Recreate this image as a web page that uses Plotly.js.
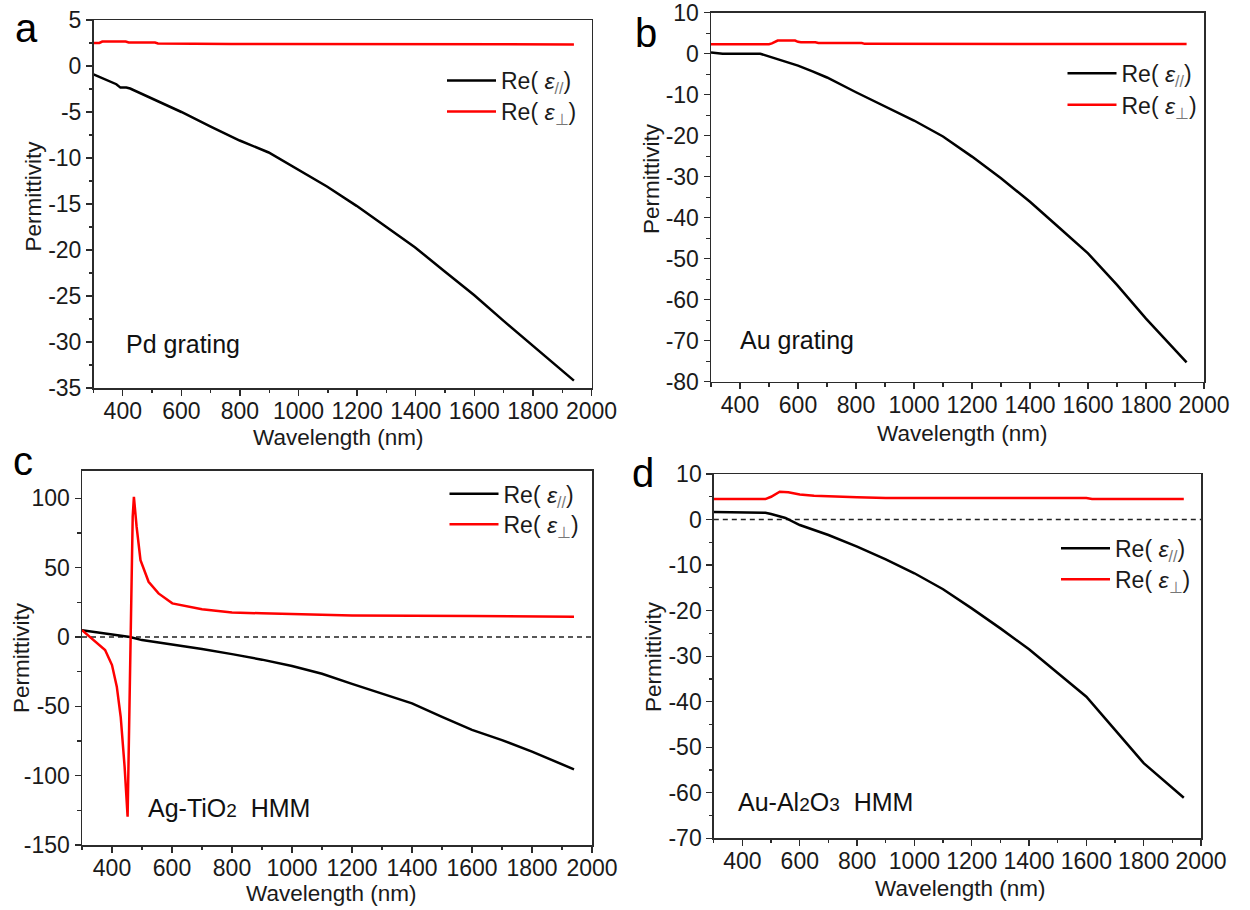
<!DOCTYPE html>
<html>
<head>
<meta charset="utf-8">
<script src="https://cdn.plot.ly/plotly-3.0.1.min.js"></script>
<style>
  html, body { margin: 0; padding: 0; background: #fff; }
  #chart { width: 1250px; height: 910px; }
</style>
</head>
<body>
<div id="chart"></div>
<script>
// ---------------- DATA ----------------
// Panel a: Pd grating
const wlA_par  = [300, 345, 378, 392, 412, 425, 502, 600, 700, 799, 898, 999, 1097, 1198, 1298, 1397, 1498, 1599, 1700, 1802, 1940];
const epsA_par = [-0.9, -1.55, -1.98, -2.35, -2.35, -2.45, -3.6, -5.0, -6.6, -8.1, -9.4, -11.3, -13.1, -15.2, -17.5, -19.7, -22.3, -24.9, -27.7, -30.5, -34.2];
const wlA_perp  = [300, 320, 330, 410, 420, 510, 520, 760, 770, 1940];
const epsA_perp = [2.5, 2.5, 2.65, 2.65, 2.55, 2.55, 2.45, 2.45, 2.38, 2.35];

// Panel b: Au grating
const wlB_par  = [300, 320, 340, 470, 500, 550, 600, 650, 700, 800, 900, 1000, 1100, 1200, 1300, 1400, 1500, 1600, 1700, 1800, 1940];
const epsB_par = [0.3, 0.2, 0, 0, -0.7, -1.8, -2.9, -4.3, -5.8, -9.4, -12.9, -16.3, -20.2, -25.1, -30.4, -36.1, -42.4, -48.7, -56.4, -64.6, -75.3];
const wlB_perp  = [300, 500, 510, 530, 590, 600, 610, 660, 670, 820, 830, 1940];
const epsB_perp = [2.3, 2.3, 2.5, 3.2, 3.2, 2.9, 2.8, 2.8, 2.6, 2.6, 2.4, 2.35];

// Panel c: Ag-TiO2 HMM
const wlC_par  = [300, 400, 460, 500, 600, 700, 800, 900, 1000, 1100, 1200, 1300, 1400, 1500, 1600, 1700, 1800, 1940];
const epsC_par = [5, 2.2, 0, -2.2, -5.3, -8.6, -12.3, -16.3, -20.9, -26.5, -33.8, -40.7, -47.8, -57.5, -67, -74.3, -82.7, -95.4];
const wlC_perp  = [300, 344, 377, 400, 416, 429, 442, 452, 462, 469, 473, 482, 495, 522, 555, 601, 700, 800, 898, 1001, 1200, 1601, 1940];
const epsC_perp = [5, -3.4, -9.4, -20.2, -35.8, -57.5, -93.5, -129.6, 0.2, 86.8, 101.2, 79.6, 55.5, 39.9, 31.5, 24.3, 20, 17.8, 17.1, 16.6, 15.6, 15.1, 14.7];

// Panel d: Au-Al2O3 HMM
const wlD_par  = [300, 480, 500, 550, 600, 700, 800, 900, 1000, 1100, 1200, 1300, 1400, 1500, 1600, 1700, 1800, 1940];
const epsD_par = [1.65, 1.5, 1.2, 0.34, -1.2, -3.4, -5.96, -8.74, -11.8, -15.3, -19.5, -23.9, -28.5, -33.8, -38.9, -46.2, -53.5, -61.1];
const wlD_perp  = [300, 480, 500, 530, 560, 600, 650, 700, 750, 800, 900, 1600, 1620, 1940];
const epsD_perp = [4.5, 4.5, 5.0, 6.1, 6.0, 5.5, 5.24, 5.1, 5.05, 4.9, 4.75, 4.73, 4.5, 4.5];

// Tick labels
const xTickVals = [400, 600, 800, 1000, 1200, 1400, 1600, 1800, 2000];
const xTickText = ['400', '600', '800', '1000', '1200', '1400', '1600', '1800', '2000'];
const yTickValsA = [5, 0, -5, -10, -15, -20, -25, -30, -35];
const yTickTextA = ['5', '0', '-5', '-10', '-15', '-20', '-25', '-30', '-35'];
const yTickValsB = [10, 0, -10, -20, -30, -40, -50, -60, -70, -80];
const yTickTextB = ['10', '0', '-10', '-20', '-30', '-40', '-50', '-60', '-70', '-80'];
const yTickValsC = [100, 50, 0, -50, -100, -150];
const yTickTextC = ['100', '50', '0', '-50', '-100', '-150'];
const yTickValsD = [10, 0, -10, -20, -30, -40, -50, -60, -70];
const yTickTextD = ['10', '0', '-10', '-20', '-30', '-40', '-50', '-60', '-70'];

const seriesNames = ['Re(\u00A0<i style="font-size:23px">ε</i><sub><span style="color:#777;font-size:16px">//</span></sub>)',
                     'Re(\u00A0<i style="font-size:23px">ε</i><sub><span style="color:#777;font-size:16px">⊥</span></sub>)'];
const panelLetters = ['a', 'b', 'c', 'd'];
const panelLabels = ['Pd grating', 'Au grating',
  'Ag-TiO<span style="font-size:19px">2</span>\u00A0\u00A0HMM',
  'Au-Al<span style="font-size:19px">2</span>O<span style="font-size:19px">3</span>\u00A0\u00A0HMM'];
const xTitle = 'Wavelength (nm)';
const yTitle = 'Permittivity';

// ---------------- STYLE ----------------
const FONT = 'Liberation Sans, Arial, Helvetica, sans-serif';
const W = 1250, H = 910;
const BLACK = '#000000', RED = '#ff0000';
const LW = 2.5;

function px(x) { return x / W; }
function py(y) { return 1 - y / H; }

// legend line positions per panel: [lineStartX, row1Y, row2Y]
const legendRows = [[447, 79, 110], [1067.5, 71.7, 103.3], [449.5, 492.3, 522.7], [1061, 546.7, 577.7]];
const LEG_DY = 20; // distance from legend top to line centre

const traces = [];
const legends = {};
const legendCommon = {
  bgcolor: 'rgba(0,0,0,0)', borderwidth: 0, itemwidth: 49,
  font: {family: FONT, size: 23, color: '#1a1a1a'},
  xanchor: 'left', yanchor: 'top', itemclick: false, itemdoubleclick: false
};
function legendId(n) { return n === 1 ? 'legend' : 'legend' + n; }
function addPanel(i, xs1, ys1, xs2, ys2) {
  const sfx = i === 0 ? '' : String(i + 1);
  const l1 = legendId(2 * i + 1), l2 = legendId(2 * i + 2);
  const r = legendRows[i];
  legends[l1] = Object.assign({}, legendCommon, {x: px(r[0] - 5), y: py(r[1] - LEG_DY)});
  legends[l2] = Object.assign({}, legendCommon, {x: px(r[0] - 5), y: py(r[2] - LEG_DY)});
  traces.push({x: xs1, y: ys1, type: 'scatter', mode: 'lines', name: seriesNames[0],
    xaxis: 'x' + sfx, yaxis: 'y' + sfx, legend: l1,
    line: {color: BLACK, width: LW}, hoverinfo: 'skip'});
  traces.push({x: xs2, y: ys2, type: 'scatter', mode: 'lines', name: seriesNames[1],
    xaxis: 'x' + sfx, yaxis: 'y' + sfx, legend: l2,
    line: {color: RED, width: LW}, hoverinfo: 'skip'});
}
addPanel(0, wlA_par, epsA_par, wlA_perp, epsA_perp);
addPanel(1, wlB_par, epsB_par, wlB_perp, epsB_perp);
addPanel(2, wlC_par, epsC_par, wlC_perp, epsC_perp);
addPanel(3, wlD_par, epsD_par, wlD_perp, epsD_perp);

const axisCommon = {
  showline: true, linecolor: '#2b2b2b', linewidth: 1.5, mirror: true,
  ticks: 'outside', ticklen: 6, tickwidth: 1.3, tickcolor: '#2b2b2b',
  showgrid: false, zeroline: false, fixedrange: true,
  tickfont: {family: FONT, size: 23, color: '#1a1a1a'},
  tickmode: 'array', ticklabeloverflow: 'allow'
};
function xAxis(domain, anchor) {
  return Object.assign({}, axisCommon, {domain: domain, anchor: anchor, range: [300, 2000],
    tickvals: xTickVals, ticktext: xTickText, ticklabelstandoff: -4,
    minor: {tickmode: 'linear', tick0: 0, dtick: 100, ticks: 'outside', ticklen: 3.5, tickwidth: 1.3, tickcolor: '#2b2b2b', showgrid: false}});
}
function yAxis(domain, anchor, range, vals, text, minorStep) {
  return Object.assign({}, axisCommon, {domain: domain, anchor: anchor, range: range,
    tickvals: vals, ticktext: text,
    minor: {tickmode: 'linear', tick0: 0, dtick: minorStep, ticks: 'outside', ticklen: 3.5, tickwidth: 1.3, tickcolor: '#2b2b2b', showgrid: false}});
}

// plot-area boxes in pixels: [left, right, top, bottom]
const boxes = [
  [93.5, 591.5, 20, 388],
  [711, 1204, 12.7, 381.7],
  [82, 592, 470.7, 845],
  [713.8, 1201, 474, 838.3]
];
function xd(b) { return [px(b[0]), px(b[1])]; }
function yd(b) { return [py(b[3]), py(b[2])]; }

const annotations = [];
const letterPos = [[12.5, 28], [633, 33], [10.5, 461], [630, 472.8]];
const labelPos = [[124, 344.4], [738, 339.7], [145.5, 808.4], [736.5, 802.4]];
const xTitlePos = [[337.6, 437], [962, 433], [331, 893], [960, 888]];
const yTitlePos = [[33, 196.5], [652, 178], [21, 658], [653, 657]];
for (let i = 0; i < 4; i++) {
  annotations.push({xref: 'paper', yref: 'paper', x: px(letterPos[i][0]), y: py(letterPos[i][1]),
    xanchor: 'left', yanchor: 'middle', showarrow: false, text: panelLetters[i],
    font: {family: FONT, size: 40, color: '#000'}});
  annotations.push({xref: 'paper', yref: 'paper', x: px(labelPos[i][0]), y: py(labelPos[i][1]),
    xanchor: 'left', yanchor: 'middle', showarrow: false, text: panelLabels[i],
    font: {family: FONT, size: 25, color: '#111'}});
  annotations.push({xref: 'paper', yref: 'paper', x: px(xTitlePos[i][0]), y: py(xTitlePos[i][1]),
    xanchor: 'center', yanchor: 'middle', showarrow: false, text: xTitle,
    font: {family: FONT, size: 22.5, color: '#1a1a1a'}});
  annotations.push({xref: 'paper', yref: 'paper', x: px(yTitlePos[i][0]), y: py(yTitlePos[i][1]),
    xanchor: 'center', yanchor: 'middle', showarrow: false, text: yTitle, textangle: -90,
    font: {family: FONT, size: 22.5, color: '#1a1a1a'}});
}

const layout = Object.assign({
  width: W, height: H,
  margin: {l: 0, r: 0, t: 0, b: 0, pad: 0},
  paper_bgcolor: '#fff', plot_bgcolor: '#fff',
  font: {family: FONT, color: '#1a1a1a'},
  showlegend: true,
  xaxis:  xAxis(xd(boxes[0]), 'y'),
  yaxis:  yAxis(yd(boxes[0]), 'x', [-35, 5], yTickValsA, yTickTextA, 2.5),
  xaxis2: xAxis(xd(boxes[1]), 'y2'),
  yaxis2: yAxis(yd(boxes[1]), 'x2', [-80, 10], yTickValsB, yTickTextB, 5),
  xaxis3: xAxis(xd(boxes[2]), 'y3'),
  yaxis3: yAxis(yd(boxes[2]), 'x3', [-150, 120], yTickValsC, yTickTextC, 25),
  xaxis4: xAxis(xd(boxes[3]), 'y4'),
  yaxis4: yAxis(yd(boxes[3]), 'x4', [-70, 10], yTickValsD, yTickTextD, 5),
  shapes: [
    {type: 'line', xref: 'x3 domain', yref: 'y3', x0: 0, x1: 1, y0: 0, y1: 0, layer: 'below',
     line: {color: '#222', width: 1.5, dash: '5px,4px'}},
    {type: 'line', xref: 'x4 domain', yref: 'y4', x0: 0, x1: 1, y0: 0, y1: 0, layer: 'below',
     line: {color: '#222', width: 1.5, dash: '5px,4px'}}
  ],
  annotations: annotations
}, legends);

Plotly.newPlot('chart', traces, layout, {displayModeBar: false, staticPlot: true});
</script>
</body>
</html>
